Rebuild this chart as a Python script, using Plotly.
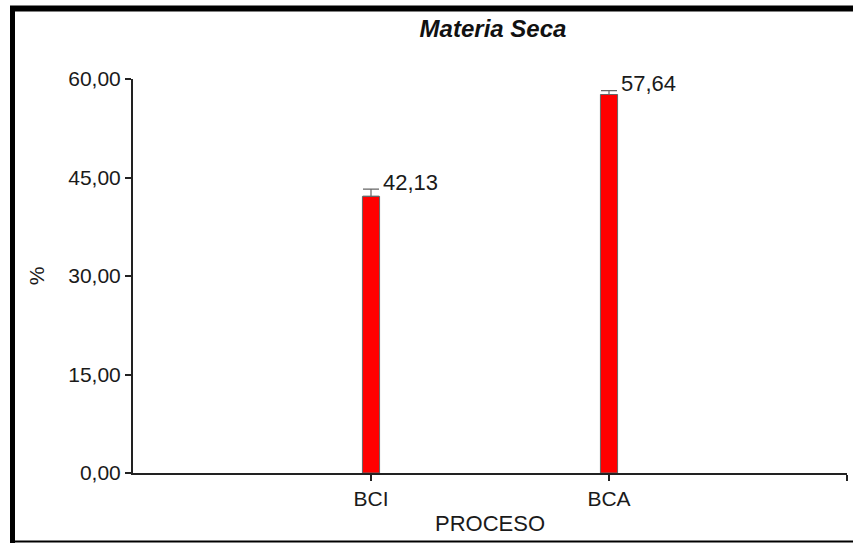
import plotly.graph_objects as go

# Dry matter (%) per process
categories = ["BCI", "BCA"]
values = [42.13, 57.64]
errors = [1.1, 0.6]
y_ticks = [0, 15, 30, 45, 60]

W, H = 853, 543
L, R, T, B = 133, 6, 79, 70
FONT = "Liberation Sans, Arial, sans-serif"
TXT = "#1a1a1a"


def px_x(p):
    return (p - L) / (W - L - R)


def px_y(p):
    return 1 - (p - T) / (H - T - B)


def fmt(v):
    return f"{v:.2f}".replace(".", ",")


xpos = list(range(len(categories)))

fig = go.Figure()
fig.add_trace(go.Bar(
    x=xpos,
    y=values,
    width=0.072,
    marker=dict(color="#ff0000", line=dict(color="#666666", width=1)),
    error_y=dict(type="data", symmetric=False, array=errors,
                 arrayminus=[0] * len(errors), visible=True,
                 color="#666666", thickness=1.2, width=8),
    showlegend=False,
    hoverinfo="skip",
))

for xi, v, e in zip(xpos, values, errors):
    fig.add_annotation(
        x=xi, y=v + e, text=fmt(v), showarrow=False,
        xanchor="left", yanchor="middle", xshift=10, yshift=7,
        font=dict(family=FONT, size=22, color=TXT),
    )

# frame lines around the chart
shapes = [
    dict(type="line", xref="paper", yref="paper",
         x0=px_x(12.5), x1=px_x(12.5), y0=px_y(6), y1=px_y(543),
         line=dict(color="black", width=5)),
    dict(type="line", xref="paper", yref="paper",
         x0=px_x(10), x1=px_x(853), y0=px_y(8.5), y1=px_y(8.5),
         line=dict(color="black", width=6)),
    dict(type="line", xref="paper", yref="paper",
         x0=px_x(10), x1=px_x(853), y0=px_y(541.5), y1=px_y(541.5),
         line=dict(color="black", width=2)),
]

fig.update_layout(
    width=W, height=H,
    margin=dict(l=L, r=R, t=T, b=B, pad=0),
    paper_bgcolor="white", plot_bgcolor="white",
    separators=",.",
    font=dict(family=FONT, size=21, color=TXT),
    title=dict(text="<b><i>Materia Seca</i></b>", x=493 / W,
               xanchor="center", y=1 - 29 / H, yanchor="middle",
               font=dict(family=FONT, size=24, color="#111111")),
    shapes=shapes,
    xaxis=dict(
        range=[-1, 2], tickmode="array", tickvals=[0, 1, 2],
        ticktext=categories + [""],
        showline=True, linecolor="#222222", linewidth=2,
        ticks="outside", ticklen=6, tickwidth=2, tickcolor="#222222",
        showgrid=False, zeroline=False,
        title=dict(text="PROCESO", standoff=6,
                   font=dict(family=FONT, size=22, color=TXT)),
        tickfont=dict(family=FONT, size=21, color=TXT),
    ),
    yaxis=dict(
        range=[0, 60], tickmode="array", tickvals=y_ticks,
        tickformat=".2f",
        showline=True, linecolor="#222222", linewidth=2,
        ticks="outside", ticklen=6, tickwidth=2, tickcolor="#222222",
        showgrid=False, zeroline=False,
        title=dict(text="%", standoff=18,
                   font=dict(family=FONT, size=21, color=TXT)),
        tickfont=dict(family=FONT, size=21, color=TXT),
    ),
)

fig.write_html("out.html")
